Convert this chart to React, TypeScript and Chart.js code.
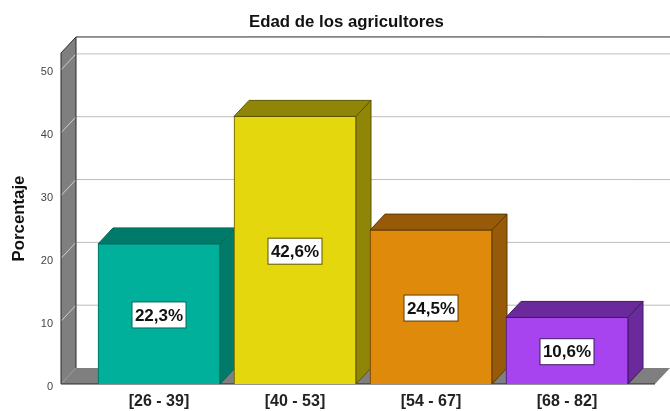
import { useEffect, useRef } from "react";
import { Chart, registerables } from "chart.js";

Chart.register(...registerables);

const chartTitle = "Edad de los agricultores";
const valueAxisTitle = "Porcentaje";
const ageRanges = ["[26 - 39]", "[40 - 53]", "[54 - 67]", "[68 - 82]"];
const percentages = [22.3, 42.6, 24.5, 10.6];
const percentageLabels = ["22,3%", "42,6%", "24,5%", "10,6%"];
const valueTicks = [0, 10, 20, 30, 40, 50];

const frontColors = ["#00b09a", "#e4d70e", "#e08a0b", "#a843f0"];
const sideColors = ["#007a69", "#8f8608", "#965a08", "#6b2a9b"];
const edgeColors = ["#006a5a", "#5c5600", "#5f3a00", "#3f1a63"];

// Oblique offset of the extruded faces, in pixels.
const DEPTH_X = 15;
const DEPTH_Y = 16;
const WALL = "#7f7f7f";

const polygon = (ctx: CanvasRenderingContext2D, pts: number[][], fill: string, stroke?: string) => {
  ctx.beginPath();
  pts.forEach(([x, y], i) => (i ? ctx.lineTo(x, y) : ctx.moveTo(x, y)));
  ctx.closePath();
  ctx.fillStyle = fill;
  ctx.fill();
  if (stroke) {
    ctx.strokeStyle = stroke;
    ctx.lineWidth = 1;
    ctx.stroke();
  }
};

// Box walls, floor and the top and side faces of each bar.
const extrusion = {
  id: "extrusion",
  beforeDatasetsDraw(chart: any) {
    const { ctx, chartArea, scales } = chart;
    const { left, right, bottom, top } = chartArea;
    const frontRight = right - DEPTH_X;
    const backLeft = left + DEPTH_X;
    ctx.save();
    ctx.fillStyle = "#ffffff";
    ctx.fillRect(backLeft, top - DEPTH_Y, right - backLeft, bottom - top);

    valueTicks.forEach((v) => {
      const y = scales.y.getPixelForValue(v);
      if (v === 0) return;
      ctx.strokeStyle = "#bdbdbd";
      ctx.lineWidth = 1;
      ctx.beginPath();
      ctx.moveTo(backLeft, y - DEPTH_Y);
      ctx.lineTo(right, y - DEPTH_Y);
      ctx.stroke();
    });

    polygon(ctx, [[left, bottom], [frontRight, bottom], [right, bottom - DEPTH_Y], [backLeft, bottom - DEPTH_Y]], WALL);
    polygon(ctx, [[left, top], [backLeft, top - DEPTH_Y], [backLeft, bottom - DEPTH_Y], [left, bottom]], WALL);

    valueTicks.forEach((v) => {
      if (v === 0) return;
      const y = scales.y.getPixelForValue(v);
      ctx.strokeStyle = "#cfcfcf";
      ctx.beginPath();
      ctx.moveTo(left, y);
      ctx.lineTo(backLeft, y - DEPTH_Y);
      ctx.stroke();
    });

    ctx.strokeStyle = "#2a2a2a";
    ctx.lineWidth = 1;
    ctx.beginPath();
    ctx.moveTo(left, bottom);
    ctx.lineTo(left, top);
    ctx.lineTo(backLeft, top - DEPTH_Y);
    ctx.lineTo(right, top - DEPTH_Y);
    ctx.moveTo(backLeft, top - DEPTH_Y);
    ctx.lineTo(backLeft, bottom - DEPTH_Y);
    ctx.moveTo(left, bottom);
    ctx.lineTo(frontRight, bottom);
    ctx.stroke();

    chart.getDatasetMeta(0).data.forEach((bar: any, i: number) => {
      const { x, y, width, base } = bar.getProps(["x", "y", "width", "base"], true);
      const l = x - width / 2;
      const r = x + width / 2;
      polygon(ctx, [[l, y], [l + DEPTH_X, y - DEPTH_Y], [r + DEPTH_X, y - DEPTH_Y], [r, y]], sideColors[i], edgeColors[i]);
      polygon(ctx, [[r, y], [r + DEPTH_X, y - DEPTH_Y], [r + DEPTH_X, base - DEPTH_Y], [r, base]], sideColors[i], edgeColors[i]);
    });
    ctx.restore();
  },
  afterDatasetsDraw(chart: any) {
    const { ctx } = chart;
    ctx.save();
    ctx.font = "bold 17px 'Liberation Sans'";
    ctx.textAlign = "center";
    ctx.textBaseline = "middle";
    chart.getDatasetMeta(0).data.forEach((bar: any, i: number) => {
      const { x, y, base } = bar.getProps(["x", "y", "base"], true);
      const cy = (y + base) / 2 + 1;
      const w = 54;
      const h = 26;
      ctx.fillStyle = "#ffffff";
      ctx.fillRect(x - w / 2, cy - h / 2, w, h);
      ctx.strokeStyle = edgeColors[i];
      ctx.lineWidth = 1;
      ctx.strokeRect(x - w / 2, cy - h / 2, w, h);
      ctx.fillStyle = "#111111";
      ctx.fillText(percentageLabels[i], x, cy + 1);
    });
    ctx.restore();
  },
};

export default function App() {
  const ref = useRef<HTMLCanvasElement>(null);

  useEffect(() => {
    const chart = new Chart(ref.current!, {
      type: "bar",
      data: {
        datasets: [
          {
            data: percentages.map((v, i) => ({ x: i, y: v })),
            backgroundColor: frontColors,
            borderColor: edgeColors,
            borderWidth: 1,
            barThickness: 122,
          },
        ],
      },
      options: {
        animation: false,
        responsive: false,
        layout: { padding: { left: 23, right: 0, top: 0, bottom: 0 } },
        plugins: {
          legend: { display: false },
          tooltip: { enabled: false },
          title: {
            display: true,
            text: chartTitle,
            color: "#111111",
            font: { family: "'Liberation Sans'", size: 16.8, weight: "bold" },
            padding: { top: 12, bottom: 20.8 },
          },
        },
        scales: {
          x: {
            type: "linear",
            offset: false,
            min: -98 / 136,
            max: 511 / 136,
            grid: { display: false, drawTicks: false, offset: false },
            border: { display: false },
            afterBuildTicks: (scale: any) => {
              scale.ticks = ageRanges.map((_, i) => ({ value: i }));
            },
            afterFit: (scale: any) => {
              scale.height = 27;
            },
            ticks: {
              autoSkip: false,
              maxRotation: 0,
              padding: 8,
              color: "#222222",
              font: { family: "'Liberation Sans'", size: 16, weight: "bold" },
              callback: (v: any) => ageRanges[v],
            },
          },
          y: {
            min: 0,
            max: 52.7,
            grid: { display: false, drawTicks: false },
            border: { display: false },
            afterBuildTicks: (scale: any) => {
              scale.ticks = valueTicks.map((value) => ({ value }));
            },
            afterFit: (scale: any) => {
              scale.width = 38;
            },
            title: {
              display: true,
              text: valueAxisTitle,
              color: "#111111",
              font: { family: "'Liberation Sans'", size: 16.8, weight: "bold" },
              padding: { top: -14, bottom: 0 },
            },
            ticks: {
              padding: 8,
              labelOffset: 2.5,
              color: "#444444",
              font: { family: "'Liberation Sans'", size: 11 },
            },
          },
        },
      },
      plugins: [extrusion],
    } as any);
    return () => chart.destroy();
  }, []);

  return (
    <canvas
      ref={ref}
      width={670}
      height={411}
      style={{ position: "absolute", left: 0, top: 0, width: 670, height: 411 }}
    />
  );
}
